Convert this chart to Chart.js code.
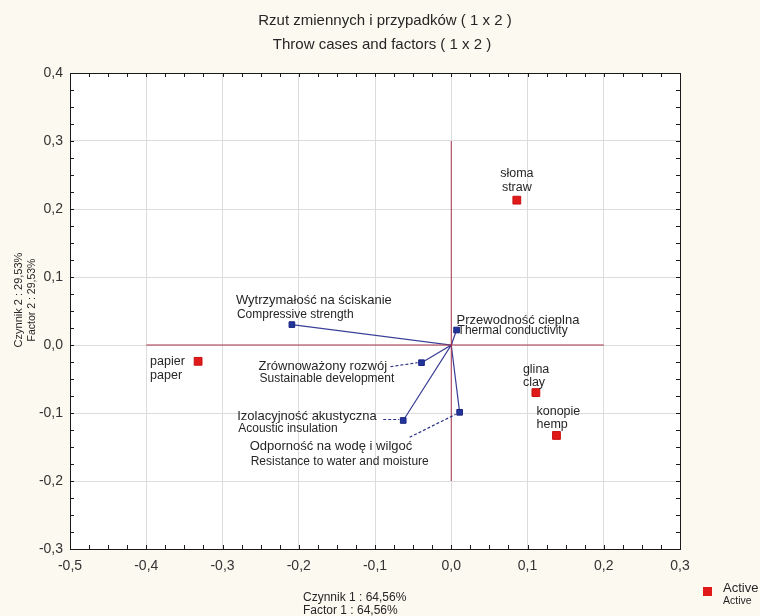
<!DOCTYPE html>
<html>
<head>
<meta charset="utf-8">
<script src="https://cdn.jsdelivr.net/npm/chart.js@4"></script>
<style>
  html,body{margin:0;padding:0;background:#fcf9f0;}
  #wrap{width:760px;height:616px;position:relative;}
</style>
</head>
<body>
<div id="wrap"><canvas id="c" width="760" height="616"></canvas></div>
<script>
// cases (red squares)
const caseNames = ['słoma', 'glina', 'konopie', 'papier'];
const caseNamesEn = ['straw', 'clay', 'hemp', 'paper'];
const caseX = [0.086, 0.111, 0.138, -0.332];
const caseY = [0.213, -0.070, -0.133, -0.024];

// variables (blue vectors)
const varNames = ['Wytrzymałość na ściskanie', 'Przewodność cieplna', 'Zrównoważony rozwój', 'Izolacyjność akustyczna', 'Odporność na wodę i wilgoć'];
const varNamesEn = ['Compressive strength', 'Thermal conductivity', 'Sustainable development', 'Acoustic insulation', 'Resistance to water and moisture'];
const varX = [-0.209, 0.007, -0.039, -0.063, 0.011];
const varY = [0.030, 0.022, -0.026, -0.111, -0.099];

// reference cross
const crossX = [-0.4, 0.2];
const crossY = [-0.2, 0.3];

const xTicks = [-0.5, -0.4, -0.3, -0.2, -0.1, 0.0, 0.1, 0.2, 0.3];
const yTicks = [-0.3, -0.2, -0.1, 0.0, 0.1, 0.2, 0.3, 0.4];

const titleLines = ['Rzut zmiennych i przypadków ( 1 x 2 )', 'Throw cases and factors ( 1 x 2 )'];
const xTitle = ['Czynnik 1 : 64,56%', 'Factor 1 : 64,56%'];
const yTitle = ['Czynnik 2 : 29,53%', 'Factor 2 : 29,53%'];
const legendText = ['Active', 'Active'];

// label placement (pixel offsets from the marker), kept apart from the data
const caseLabelPos = [
  {dx: 0, dy1: -27, dy2: -13, align: 'center'},
  {dx: -13, dy1: -23, dy2: -10, align: 'left'},
  {dx: -20, dy1: -24, dy2: -11, align: 'left'},
  {dx: -48, dy1: 0, dy2: 14, align: 'left'}
];
const varLabelPos = [
  {dx: -56, dy1: -24, dy2: -10},
  {dx: 0, dy1: -10, dy2: 1},
  {dx: -163, dy1: 4, dy2: 16, lead: [-31, 4, -4, 0]},
  {dx: -166, dy1: -4, dy2: 8, lead: [-20, -1, -4, -1]},
  {dx: -210, dy1: 34, dy2: 49, lead: [-50, 25, -4, 2]}
];

const FONT = '"Liberation Sans", Arial, sans-serif';
const TXT = '#262626';

const fmt = v => (Math.abs(v) < 1e-9 ? 0 : v).toFixed(1).replace('.', ',');

// vectors: origin -> point, origin -> point ...
const vecData = [];
varX.forEach((x, i) => { vecData.push({x: 0, y: 0}); vecData.push({x: x, y: varY[i]}); });

const plotDecor = {
  id: 'plotDecor',
  beforeDraw(chart) {
    const {ctx, chartArea: a} = chart;
    ctx.save();
    ctx.fillStyle = '#ffffff';
    ctx.fillRect(a.left, a.top, a.right - a.left, a.bottom - a.top);
    ctx.restore();
  },
  afterDatasetsDraw(chart) {
    const {ctx, chartArea: a, scales} = chart;
    const xs = scales.x, ys = scales.y;
    ctx.save();
    // frame
    ctx.strokeStyle = '#1a1a1a';
    ctx.lineWidth = 1;
    ctx.strokeRect(Math.round(a.left) + 0.5, Math.round(a.top) + 0.5, Math.round(a.right - a.left), Math.round(a.bottom - a.top));
    // inward ticks every 0.025
    ctx.beginPath();
    for (let v = -0.5; v <= 0.3001; v += 0.025) {
      const px = Math.round(xs.getPixelForValue(v)) + 0.5;
      ctx.moveTo(px, a.top); ctx.lineTo(px, a.top + 4);
      ctx.moveTo(px, a.bottom); ctx.lineTo(px, a.bottom - 4);
    }
    for (let v = -0.3; v <= 0.4001; v += 0.025) {
      const py = Math.round(ys.getPixelForValue(v)) + 0.5;
      ctx.moveTo(a.left, py); ctx.lineTo(a.left + 4, py);
      ctx.moveTo(a.right, py); ctx.lineTo(a.right - 4, py);
    }
    ctx.stroke();

    // dashed leaders
    ctx.strokeStyle = '#2a2f8a';
    ctx.setLineDash([3, 2]);
    ctx.lineWidth = 1.2;
    varX.forEach((x, i) => {
      const p = varLabelPos[i];
      if (!p.lead) return;
      const px = xs.getPixelForValue(x), py = ys.getPixelForValue(varY[i]);
      ctx.beginPath();
      ctx.moveTo(px + p.lead[0], py + p.lead[1]);
      ctx.lineTo(px + p.lead[2], py + p.lead[3]);
      ctx.stroke();
    });
    ctx.setLineDash([]);

    // labels
    ctx.fillStyle = TXT;
    ctx.textBaseline = 'middle';
    caseX.forEach((x, i) => {
      const p = caseLabelPos[i];
      const px = xs.getPixelForValue(x), py = ys.getPixelForValue(caseY[i]);
      ctx.textAlign = p.align;
      ctx.font = '12.5px ' + FONT;
      ctx.fillText(caseNames[i], px + p.dx, py + p.dy1);
      ctx.fillText(caseNamesEn[i], px + p.dx, py + p.dy2);
    });
    ctx.textAlign = 'left';
    varX.forEach((x, i) => {
      const p = varLabelPos[i];
      const px = xs.getPixelForValue(x), py = ys.getPixelForValue(varY[i]);
      ctx.font = '13px ' + FONT;
      ctx.fillText(varNames[i], px + p.dx, py + p.dy1);
      ctx.font = '12px ' + FONT;
      ctx.fillText(varNamesEn[i], px + p.dx + 1, py + p.dy2);
    });
    ctx.restore();
  },
  afterDraw(chart) {
    const {ctx} = chart;
    ctx.save();
    ctx.fillStyle = TXT;
    ctx.textBaseline = 'middle';
    // title
    ctx.textAlign = 'center';
    ctx.font = '15px ' + FONT;
    ctx.fillText(titleLines[0], 385, 21);
    ctx.fillText(titleLines[1], 382, 45);
    // x axis title
    ctx.textAlign = 'left';
    ctx.font = '12px ' + FONT;
    ctx.fillText(xTitle[0], 303, 598);
    ctx.font = '12px ' + FONT;
    ctx.fillText(xTitle[1], 303, 611);
    // y axis title
    ctx.save();
    ctx.translate(19, 300);
    ctx.rotate(-Math.PI / 2);
    ctx.textAlign = 'center';
    ctx.font = '11px ' + FONT;
    ctx.fillText(yTitle[0], 0, 0);
    ctx.font = '10.5px ' + FONT;
    ctx.fillText(yTitle[1], 0, 13);
    ctx.restore();
    // legend
    ctx.fillStyle = '#e01a1a';
    ctx.fillRect(703, 587, 9, 9);
    ctx.fillStyle = TXT;
    ctx.font = '13px ' + FONT;
    ctx.fillText(legendText[0], 723, 588);
    ctx.font = '10.5px ' + FONT;
    ctx.fillText(legendText[1], 723, 601);
    ctx.restore();
  }
};

Chart.defaults.font.family = FONT;
Chart.defaults.color = TXT;

new Chart(document.getElementById('c'), {
  type: 'scatter',
  data: {
    datasets: [
      {
        label: 'cross-h',
        data: crossX.map(x => ({x: x, y: 0})),
        showLine: true,
        borderColor: '#a8324a',
        borderWidth: 1,
        pointRadius: 0
      },
      {
        label: 'cross-v',
        data: crossY.map(y => ({x: 0, y: y})),
        showLine: true,
        borderColor: '#a8324a',
        borderWidth: 1,
        pointRadius: 0
      },
      {
        label: 'vectors',
        data: vecData,
        showLine: true,
        borderColor: '#3a3f96',
        borderWidth: 1.2,
        pointStyle: 'rect',
        pointRadius: vecData.map((d, i) => i % 2 ? 4 : 0),
        pointBackgroundColor: '#23359a',
        pointBorderColor: '#1a2580',
        pointBorderWidth: 1
      },
      {
        label: 'Active',
        data: caseX.map((x, i) => ({x: x, y: caseY[i]})),
        pointStyle: 'rect',
        pointRadius: 5.5,
        pointBackgroundColor: '#e01a1a',
        pointBorderColor: '#c81010',
        pointBorderWidth: 1
      }
    ]
  },
  options: {
    responsive: false,
    animation: false,
    events: [],
    layout: {padding: {top: 73, right: 80, left: 0, bottom: 0}},
    plugins: {legend: {display: false}, tooltip: {enabled: false}, title: {display: false}},
    scales: {
      x: {
        type: 'linear',
        min: -0.5, max: 0.3,
        afterBuildTicks: s => { s.ticks = xTicks.map(v => ({value: v})); },
        afterFit: s => { s.height = 67; },
        border: {display: false},
        grid: {color: '#dcdcdc', drawTicks: false, lineWidth: 1},
        ticks: {padding: 9, font: {size: 14}, color: '#333', callback: v => fmt(v), maxRotation: 0, autoSkip: false}
      },
      y: {
        type: 'linear',
        min: -0.3, max: 0.4,
        afterBuildTicks: s => { s.ticks = yTicks.map(v => ({value: v})); },
        afterFit: s => { s.width = 70; },
        border: {display: false},
        grid: {color: '#dcdcdc', drawTicks: false, lineWidth: 1},
        ticks: {padding: 7, font: {size: 14}, color: '#333', callback: v => fmt(v), autoSkip: false}
      }
    }
  },
  plugins: [plotDecor]
});
</script>
</body>
</html>
